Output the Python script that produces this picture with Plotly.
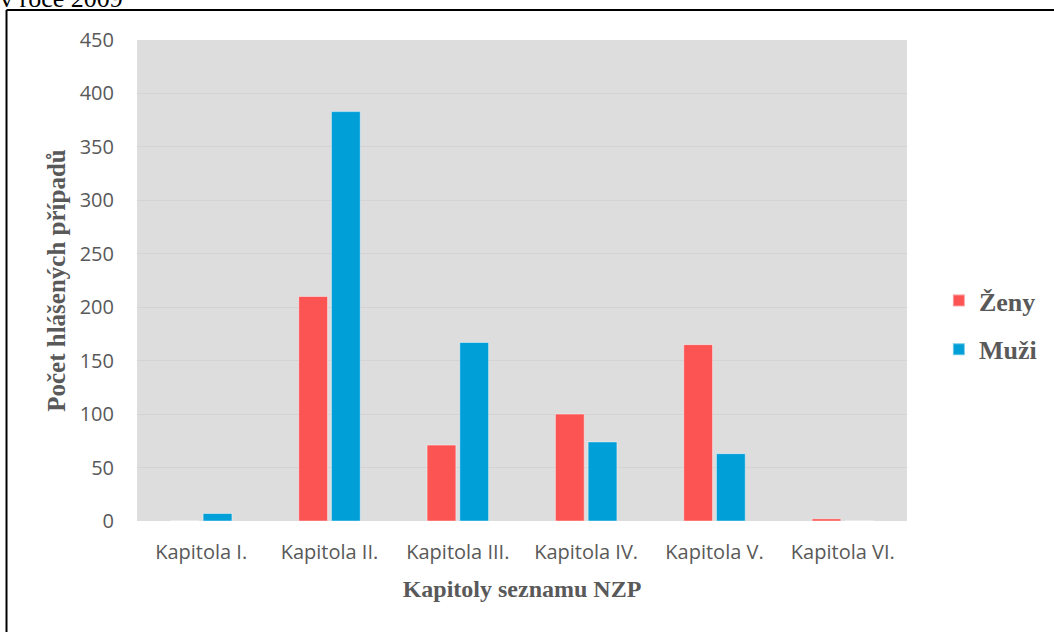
import plotly.graph_objects as go

categories = ["Kapitola I.", "Kapitola II.", "Kapitola III.", "Kapitola IV.", "Kapitola V.", "Kapitola VI."]
zeny = [0, 210, 71, 100, 165, 2]
muzi = [7, 383, 167, 74, 63, 0]
y_ticks = [0, 50, 100, 150, 200, 250, 300, 350, 400, 450]

W, H = 1054, 632
L, R, T, B = 137, 910, 40, 521
pw, ph = R - L, B - T

def px(x):
    return (x - L) / pw

def py(y):
    return (B - y) / ph

gray = "#595959"
serif = "Liberation Serif, Times New Roman, serif"
sans = "Open Sans, Noto Sans, sans-serif"

fig = go.Figure()
fig.add_trace(go.Bar(name="Ženy", x=categories, y=zeny, marker=dict(color="#FC5353", line=dict(color="rgba(255,255,255,0.45)", width=1)), legendgroup="z"))
fig.add_trace(go.Bar(name="Muži", x=categories, y=muzi, marker=dict(color="#009FD8", line=dict(color="rgba(255,255,255,0.45)", width=1)), legendgroup="m"))

fig.update_layout(
    width=W, height=H,
    margin=dict(l=L, r=W - R, t=T, b=H - B, pad=0),
    paper_bgcolor="white",
    plot_bgcolor="#DDDDDD",
    barmode="group",
    bargap=0.49,
    bargroupgap=0.12,
    showlegend=True,
    legend=dict(
        x=px(942), y=py(325), xanchor="left", yanchor="middle",
        font=dict(family=serif, size=26, color=gray, weight="bold"),
        tracegroupgap=12, traceorder="grouped",
        itemsizing="constant", bgcolor="rgba(0,0,0,0)",
    ),
    xaxis=dict(
        showgrid=False, showline=False, ticks="",
        tickfont=dict(family=sans, size=20, color=gray),
        ticklabelstandoff=17,
        title=dict(text="Kapitoly seznamu NZP", font=dict(family=serif, size=24, color=gray, weight="bold"), standoff=16),
    ),
    yaxis=dict(
        range=[0, 450], tickvals=y_ticks,
        showgrid=True, gridcolor="#D3D3D3", gridwidth=1,
        zeroline=False, showline=False, ticks="",
        tickfont=dict(family=sans, size=20, color=gray),
        ticklabelstandoff=22,
        title=dict(text="Počet hlášených případů", font=dict(family=serif, size=25, color=gray, weight="bold"), standoff=6),
    ),
    shapes=[
        dict(type="line", xref="paper", yref="paper", x0=px(6), x1=px(1060), y0=py(10), y1=py(10), line=dict(color="black", width=2)),
        dict(type="line", xref="paper", yref="paper", x0=px(6), x1=px(6), y0=py(10), y1=py(640), line=dict(color="black", width=2)),
    ],
    annotations=[
        dict(text="v roce 2009", xref="paper", yref="paper", x=px(-3), y=py(15), xanchor="left", yanchor="bottom",
             showarrow=False, font=dict(family=serif, size=26, color="black")),
    ],
)

fig.write_html("out.html", config={"displayModeBar": False},
               post_script="document.body.style.margin='0';document.body.style.overflow='hidden';")
